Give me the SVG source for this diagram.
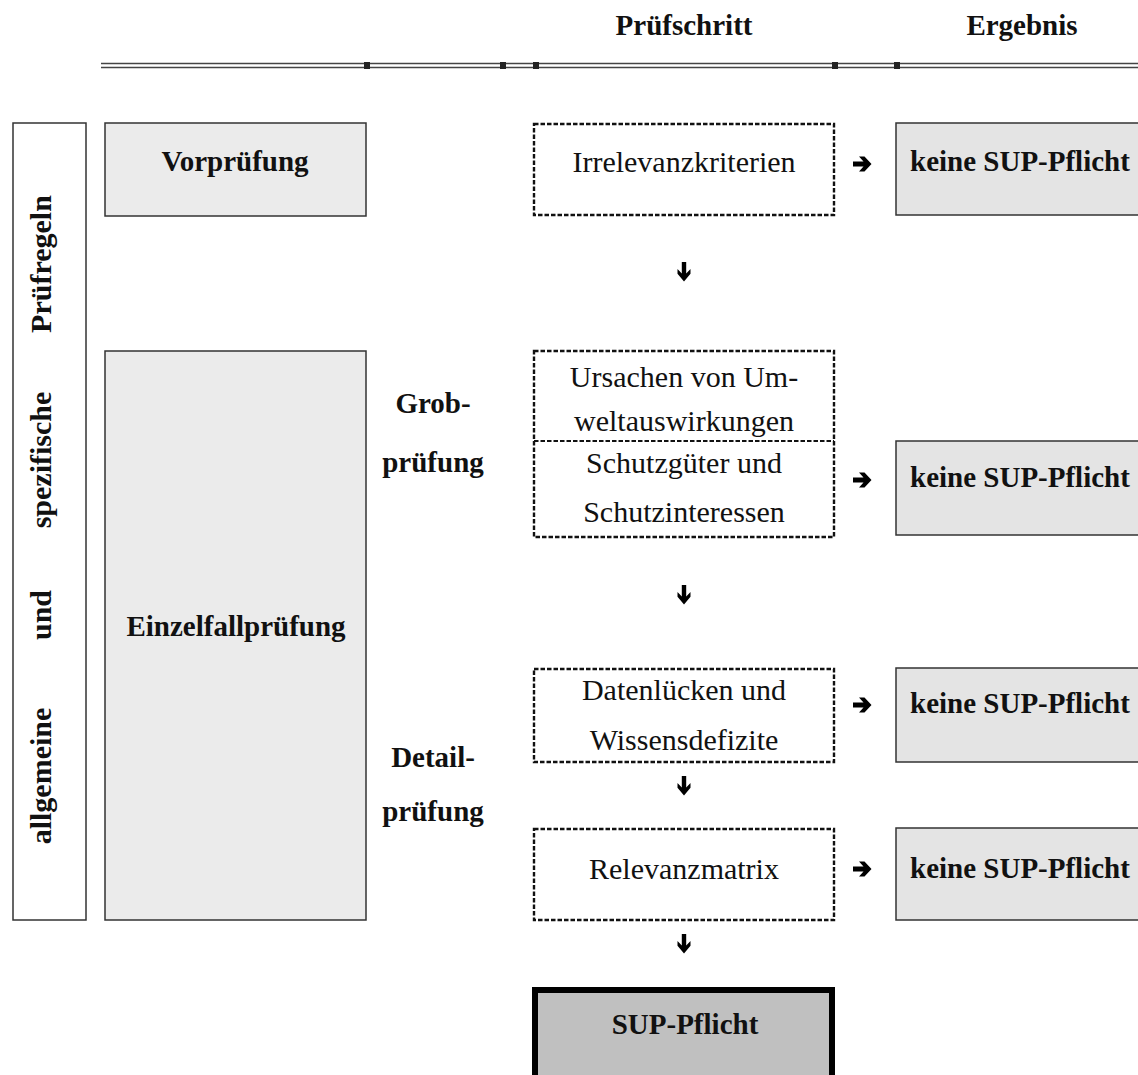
<svg xmlns="http://www.w3.org/2000/svg" width="1138" height="1075" viewBox="0 0 1138 1075">
<style>
  text { font-family: "Liberation Serif", "Times New Roman", serif; fill: #111; }
  .b { font-weight: bold; font-size: 29px; }
  .v { font-weight: bold; font-size: 30px; text-anchor: middle; }
  .r { font-size: 30px; }
  .m { text-anchor: middle; }
  .grey { fill: #ebebeb; stroke: #333; stroke-width: 1.5; }
  .res { fill: #e4e4e4; stroke: #333; stroke-width: 1.5; }
  .dash { fill: #fff; stroke: #111; stroke-width: 2.4; stroke-dasharray: 4.5 2; }
  .tick { fill: #222; }
</style>
<defs>
  <path id="arrR" d="M-9,-2.6 H1.5 L-3,-7.5 H2.5 L9.5,0 L2.5,7.5 H-3 L1.5,2.6 H-9 Z" fill="#000"/>
  <path id="arrD" d="M-2.2,-10 H2.2 V1.5 L6.5,-3 V1.8 L0,9.5 L-6.5,1.8 V-3 L-2.2,1.5 Z" fill="#000"/>
</defs>

<g id="header">
  <text class="b m" x="684" y="35">Prüfschritt</text>
  <text class="b m" x="1022" y="35">Ergebnis</text>
  <line x1="101" y1="63.5" x2="1138" y2="63.5" stroke="#444" stroke-width="1.5"/>
  <line x1="101" y1="67.5" x2="1138" y2="67.5" stroke="#444" stroke-width="1.5"/>
  <rect class="tick" x="364" y="62" width="6" height="7"/>
  <rect class="tick" x="500" y="62" width="6" height="7"/>
  <rect class="tick" x="533" y="62" width="6" height="7"/>
  <rect class="tick" x="832" y="62" width="6" height="7"/>
  <rect class="tick" x="894" y="62" width="6" height="7"/>
</g>

<g id="rules-column">
  <rect x="13" y="123" width="73" height="797" fill="#fff" stroke="#333" stroke-width="1.5"/>
  <text class="v" transform="translate(51,264) rotate(-90)">Prüfregeln</text>
  <text class="v" transform="translate(51,460) rotate(-90)">spezifische</text>
  <text class="v" transform="translate(51,615) rotate(-90)">und</text>
  <text class="v" transform="translate(51,776) rotate(-90)">allgemeine</text>
</g>

<g id="vorpruefung">
  <rect class="grey" x="105" y="123" width="261" height="93"/>
  <text class="b m" x="235" y="171">Vorprüfung</text>
</g>

<g id="einzelfallpruefung">
  <rect class="grey" x="105" y="351" width="261" height="569"/>
  <text class="b m" x="236" y="636">Einzelfallprüfung</text>
</g>

<g id="grobpruefung-label">
  <text class="b m" x="433" y="413">Grob-</text>
  <text class="b m" x="433" y="472">prüfung</text>
</g>

<g id="detailpruefung-label">
  <text class="b m" x="433" y="767">Detail-</text>
  <text class="b m" x="433" y="821">prüfung</text>
</g>

<g id="irrelevanz">
  <rect class="dash" x="534" y="124" width="300" height="91"/>
  <text class="r m" x="684" y="172">Irrelevanzkriterien</text>
</g>

<g id="grob-box">
  <rect class="dash" x="534" y="351" width="300" height="186"/>
  <line x1="534" y1="441" x2="834" y2="441" stroke="#111" stroke-width="2.2" stroke-dasharray="4.5 2"/>
  <text class="r m" x="684" y="387">Ursachen von Um-</text>
  <text class="r m" x="684" y="431">weltauswirkungen</text>
  <text class="r m" x="684" y="473">Schutzgüter und</text>
  <text class="r m" x="684" y="522">Schutzinteressen</text>
</g>

<g id="datenluecken">
  <rect class="dash" x="534" y="669" width="300" height="93"/>
  <text class="r m" x="684" y="700">Datenlücken und</text>
  <text class="r m" x="684" y="750">Wissensdefizite</text>
</g>

<g id="relevanzmatrix">
  <rect class="dash" x="534" y="829" width="300" height="91"/>
  <text class="r m" x="684" y="879">Relevanzmatrix</text>
</g>

<g id="sup-pflicht">
  <rect x="535" y="990" width="297" height="110" fill="#c0c0c0" stroke="#000" stroke-width="6"/>
  <text class="b m" x="685" y="1034">SUP-Pflicht</text>
</g>

<g id="ergebnis-1">
  <rect class="res" x="896" y="123" width="260" height="92"/>
  <text class="b" x="910" y="171">keine SUP-Pflicht</text>
</g>
<g id="ergebnis-2">
  <rect class="res" x="896" y="441" width="260" height="94"/>
  <text class="b" x="910" y="487">keine SUP-Pflicht</text>
</g>
<g id="ergebnis-3">
  <rect class="res" x="896" y="668" width="260" height="94"/>
  <text class="b" x="910" y="713">keine SUP-Pflicht</text>
</g>
<g id="ergebnis-4">
  <rect class="res" x="896" y="828" width="260" height="92"/>
  <text class="b" x="910" y="878">keine SUP-Pflicht</text>
</g>

<g id="connectors">
  <use href="#arrR" x="862" y="164"/>
  <use href="#arrR" x="862" y="480"/>
  <use href="#arrR" x="862" y="705"/>
  <use href="#arrR" x="862" y="869"/>
  <use href="#arrD" x="684" y="272"/>
  <use href="#arrD" x="684" y="595"/>
  <use href="#arrD" x="684" y="786"/>
  <use href="#arrD" x="684" y="944"/>
</g>
</svg>
